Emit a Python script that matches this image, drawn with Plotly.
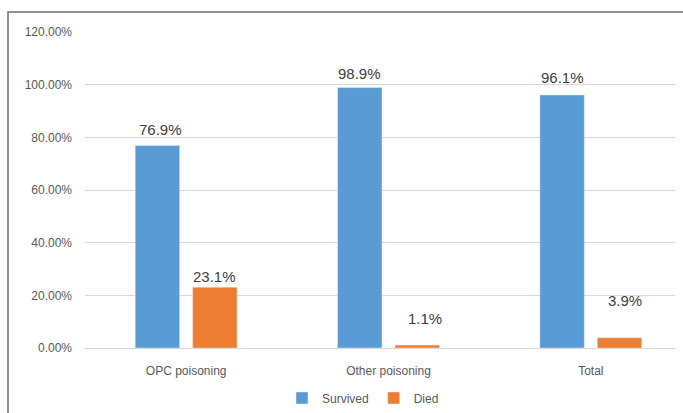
import plotly.graph_objects as go

categories = ["OPC poisoning", "Other poisoning", "Total"]
survived = [0.769, 0.989, 0.961]
died = [0.231, 0.011, 0.039]
survived_labels = ["76.9%", "98.9%", "96.1%"]
died_labels = ["23.1%", "1.1%", "3.9%"]
y_ticks = [0, 0.2, 0.4, 0.6, 0.8, 1.0, 1.2]
y_tick_text = ["0.00%", "20.00%", "40.00%", "60.00%", "80.00%", "100.00%", "120.00%"]

# styling offsets for data labels (pixels)
survived_yshift = [16, 14, 17]
survived_xshift_extra = [3, 0, 0]
died_yshift = [11, 27, 37]
died_xshift_extra = [0, 8, 5]

BLUE = "#5b9bd5"
ORANGE = "#ed7d31"
TXT = "#404040"
TICK = "#595959"

fig = go.Figure()
fig.add_trace(go.Bar(x=categories, y=survived, name="Survived", marker_color=BLUE))
fig.add_trace(go.Bar(x=categories, y=died, name="Died", marker_color=ORANGE))

half_slot = 28.75
annotations = []
for c, v, t, ys, xs in zip(categories, survived, survived_labels, survived_yshift, survived_xshift_extra):
    annotations.append(dict(x=c, y=v, text=t, showarrow=False, xshift=-half_slot + xs,
                            yshift=ys, yanchor="middle",
                            font=dict(family="Liberation Sans", size=15, color=TXT)))
for c, v, t, ys, xs in zip(categories, died, died_labels, died_yshift, died_xshift_extra):
    annotations.append(dict(x=c, y=v, text=t, showarrow=False, xshift=half_slot + xs,
                            yshift=ys, yanchor="middle",
                            font=dict(family="Liberation Sans", size=15, color=TXT)))

L, R, T, B = 85, 8, 32, 65
W, H = 683, 413
pw = W - L - R
ph = H - T - B

fig.update_layout(
    width=W, height=H,
    margin=dict(l=L, r=R, t=T, b=B, autoexpand=False),
    paper_bgcolor="white", plot_bgcolor="white",
    barmode="group", bargap=0.432, bargroupgap=0.226,
    font=dict(family="Liberation Sans", size=12, color=TICK),
    showlegend=True,
    legend=dict(orientation="h", xref="container", yref="container",
                x=363 / W, xanchor="center", y=(H - 398) / H, yanchor="middle",
                font=dict(size=12, color=TICK), itemwidth=30, traceorder="normal"),
    xaxis=dict(range=[-0.5, 2.416], showgrid=False, showline=False, ticks="",
               ticklabelstandoff=14, tickfont=dict(size=12, color=TICK)),
    yaxis=dict(range=[0, 1.2], tickvals=y_ticks, ticktext=y_tick_text,
               showgrid=True, gridcolor="#d9d9d9", gridwidth=1, zeroline=True,
               zerolinecolor="#d9d9d9", zerolinewidth=1, showline=False, ticks="",
               ticklabelstandoff=12, tickfont=dict(size=12, color=TICK)),
    annotations=annotations,
    shapes=[dict(type="rect", xref="paper", yref="paper",
                 x0=(8 - L) / pw, x1=(W + 10 - L) / pw,
                 y0=(ph - (H + 10 - T)) / ph, y1=(ph - (12 - T)) / ph,
                 line=dict(color="#6f6f6f", width=1.5), layer="below")],
)

fig.write_html("out.html")
